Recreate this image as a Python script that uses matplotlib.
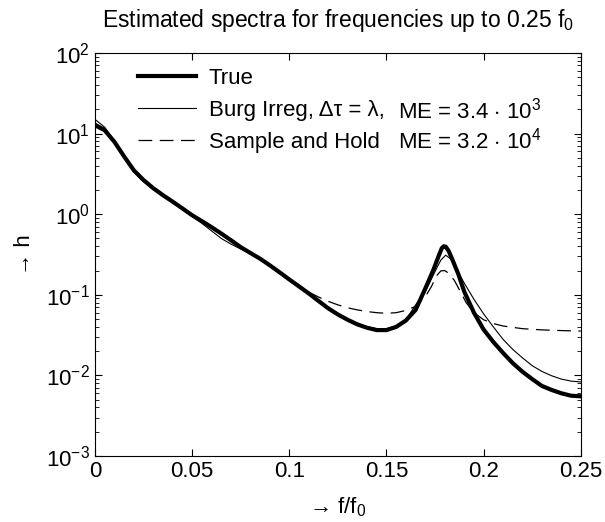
import numpy as np
import matplotlib
matplotlib.use("Agg")
import matplotlib.pyplot as plt

plt.rcParams['font.family'] = ['Liberation Sans', 'DejaVu Sans']
plt.rcParams['mathtext.fontset'] = 'custom'
plt.rcParams['mathtext.rm'] = 'Liberation Sans'
plt.rcParams['mathtext.it'] = 'Liberation Sans'

# --- data
f_true = [0.000, 0.005, 0.010, 0.015, 0.020, 0.025, 0.030, 0.035, 0.040, 0.045,
          0.050, 0.055, 0.060, 0.065, 0.070, 0.075, 0.080, 0.085, 0.090, 0.095,
          0.100, 0.105, 0.110, 0.115, 0.120, 0.125, 0.130, 0.135, 0.140, 0.145,
          0.150, 0.155, 0.160, 0.165, 0.170, 0.174, 0.177, 0.1785, 0.1795, 0.1805,
          0.182, 0.184, 0.187, 0.190, 0.195, 0.200, 0.205, 0.210, 0.215, 0.220,
          0.225, 0.230, 0.235, 0.240, 0.245, 0.250]
h_true = [12.7, 11.0, 7.9, 5.2, 3.5, 2.65, 2.1, 1.72, 1.43, 1.18,
          0.97, 0.82, 0.69, 0.575, 0.475, 0.39, 0.33, 0.28, 0.232, 0.19,
          0.155, 0.127, 0.104, 0.084, 0.068, 0.057, 0.049, 0.043, 0.039, 0.0365,
          0.0365, 0.040, 0.048, 0.065, 0.12, 0.20, 0.31, 0.38, 0.40, 0.395,
          0.35, 0.27, 0.18, 0.11, 0.060, 0.037, 0.026, 0.019, 0.0142, 0.0111,
          0.0090, 0.0074, 0.0066, 0.0060, 0.0056, 0.0055]

f_burg = [0.000, 0.005, 0.010, 0.015, 0.020, 0.025, 0.030, 0.035, 0.040, 0.045,
          0.050, 0.055, 0.060, 0.065, 0.070, 0.075, 0.080, 0.085, 0.090, 0.095,
          0.100, 0.105, 0.110, 0.115, 0.120, 0.125, 0.130, 0.135, 0.140, 0.145,
          0.150, 0.155, 0.160, 0.165, 0.170, 0.175, 0.178, 0.1805, 0.183, 0.186,
          0.190, 0.195, 0.200, 0.205, 0.210, 0.215, 0.220, 0.225, 0.230, 0.235,
          0.240, 0.245, 0.250]
h_burg = [15.0, 12.0, 8.0, 5.0, 3.35, 2.55, 2.03, 1.66, 1.38, 1.14,
          0.94, 0.77, 0.62, 0.50, 0.425, 0.37, 0.325, 0.283, 0.238, 0.195,
          0.158, 0.128, 0.104, 0.085, 0.069, 0.058, 0.050, 0.044, 0.040, 0.038,
          0.038, 0.041, 0.049, 0.075, 0.11, 0.195, 0.27, 0.31, 0.28, 0.21,
          0.14, 0.088, 0.058, 0.040, 0.028, 0.021, 0.0165, 0.0132, 0.0112, 0.0099,
          0.0090, 0.0085, 0.0083]

f_sh = [0.000, 0.005, 0.010, 0.015, 0.020, 0.025, 0.030, 0.035, 0.040, 0.045,
        0.050, 0.055, 0.060, 0.065, 0.070, 0.075, 0.080, 0.085, 0.090, 0.095,
        0.100, 0.105, 0.110, 0.115, 0.120, 0.125, 0.130, 0.135, 0.140, 0.145,
        0.150, 0.155, 0.160, 0.165, 0.170, 0.173, 0.176, 0.178, 0.180, 0.182,
        0.185, 0.188, 0.191, 0.195, 0.200, 0.205, 0.210, 0.220, 0.230, 0.240,
        0.250]
h_sh = [13.5, 11.5, 8.0, 5.1, 3.45, 2.6, 2.07, 1.7, 1.41, 1.16,
        0.96, 0.81, 0.68, 0.57, 0.47, 0.385, 0.327, 0.28, 0.23, 0.19,
        0.158, 0.132, 0.108, 0.094, 0.083, 0.075, 0.069, 0.065, 0.062, 0.060,
        0.059, 0.060, 0.064, 0.072, 0.095, 0.125, 0.175, 0.198, 0.20, 0.185,
        0.15, 0.11, 0.08, 0.060, 0.049, 0.044, 0.041, 0.038, 0.0367, 0.0360,
        0.0355]

me_labels = [r"ME = 3.4 $\cdot$ 10$^3$", r"ME = 3.2 $\cdot$ 10$^4$"]

# --- plot
fig = plt.figure(figsize=(6.05, 5.22), dpi=100)
ax = fig.add_axes([0.157, 0.1264, 0.803, 0.7721])

ax.plot(f_true, h_true, color='black', lw=3.0, label='True')
ax.plot(f_burg, h_burg, color='black', lw=0.8, label='Burg Irreg, Δτ = λ,')
ax.plot(f_sh, h_sh, color='black', lw=0.9, dashes=(11, 6), label='Sample and Hold')

ax.set_yscale('log')
ax.set_xlim(0, 0.25)
ax.set_ylim(1e-3, 1e2)
ax.set_xticks([0, 0.05, 0.1, 0.15, 0.2, 0.25])
ax.set_xticklabels(['0', '0.05', '0.1', '0.15', '0.2', '0.25'])
ax.tick_params(which='both', direction='in', top=True, right=True, labelsize=16)
ax.tick_params(which='major', length=5, width=0.8)
ax.tick_params(which='minor', length=3, width=0.6)

ax.set_title(r'Estimated spectra for frequencies up to 0.25 f$_0$', fontsize=16.5, pad=19)
ax.set_xlabel(r'→ f/f$_0$', fontsize=16, labelpad=10)
ax.set_ylabel('→ h', fontsize=16, labelpad=8)

leg = ax.legend(loc='upper left', bbox_to_anchor=(0.07, 0.985), frameon=False,
                fontsize=16, handlelength=2.6, handletextpad=0.6, labelspacing=0.5,
                borderaxespad=0)

ax.text(0.623, 0.857, me_labels[0], transform=ax.transAxes, fontsize=16, va='center')
ax.text(0.623, 0.782, me_labels[1], transform=ax.transAxes, fontsize=16, va='center')

plt.savefig("out.png", dpi=100)
plt.close()
